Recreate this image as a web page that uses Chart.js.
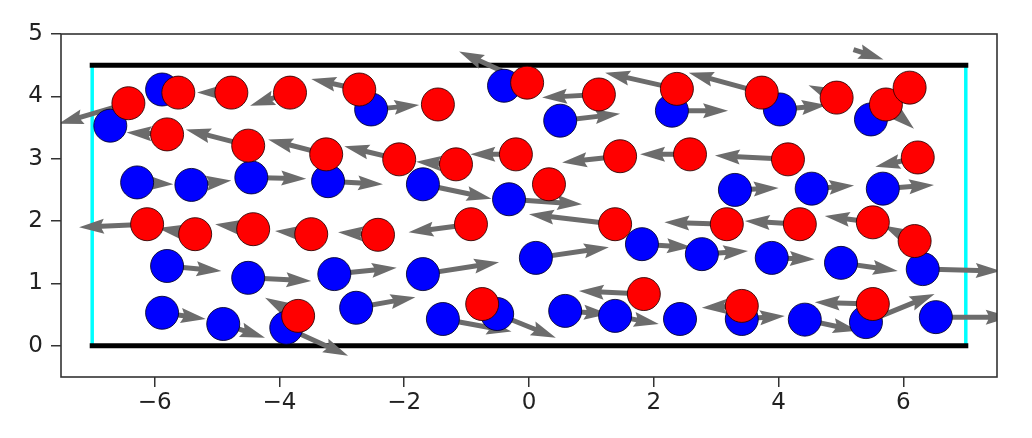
<!DOCTYPE html>
<html><head><meta charset="utf-8">
<script src="https://cdn.jsdelivr.net/npm/chart.js@4.4.1/dist/chart.umd.min.js"></script>
<style>html,body{margin:0;padding:0;background:#fff}#wrap{width:1032px;height:438px;position:relative}</style>
</head><body><div id="wrap"><canvas id="c"></canvas></div>
<script>
const xTicks = [-6, -4, -2, 0, 2, 4, 6];
const yTicks = [0, 1, 2, 3, 4, 5];

const blueX = [-5.88,-6.71,-2.53,-0.40,0.50,2.29,4.02,5.48,-6.28,-5.41,-4.45,-3.22,-1.70,-0.32,3.30,4.53,5.67,-5.80,-4.50,-3.12,-1.70,0.11,1.81,2.77,3.89,5.00,6.31,-5.88,-4.90,-3.89,-2.77,-1.38,-0.51,0.58,1.38,2.42,3.41,4.42,5.40,6.52];
const blueY = [4.11,3.53,3.79,4.17,3.61,3.77,3.79,3.63,2.62,2.58,2.70,2.64,2.59,2.35,2.50,2.52,2.52,1.28,1.09,1.15,1.15,1.41,1.63,1.47,1.41,1.33,1.23,0.53,0.35,0.29,0.61,0.43,0.51,0.56,0.48,0.43,0.43,0.42,0.38,0.46];

const redX = [-6.42,-5.62,-4.77,-3.83,-2.72,-1.46,-0.03,1.12,2.37,3.73,4.93,5.72,6.10,-5.80,-4.50,-3.25,-2.08,-1.17,-0.21,0.32,1.46,2.58,4.15,6.23,-6.12,-5.35,-4.42,-3.49,-2.42,-0.93,1.38,3.17,4.34,5.51,6.18,-3.70,-0.75,1.84,3.41,5.51];
const redY = [3.89,4.06,4.06,4.06,4.11,3.87,4.22,4.03,4.12,4.06,3.98,3.87,4.14,3.39,3.21,3.07,2.99,2.91,3.07,2.59,3.04,3.07,2.99,3.02,1.95,1.79,1.87,1.79,1.78,1.95,1.95,1.95,1.95,1.98,1.68,0.48,0.67,0.83,0.64,0.67];

const arrowX = [-6.42,-4.77,-3.83,-2.72,-2.53,-0.03,1.12,0.50,2.37,3.73,2.29,4.02,5.2,5.72,4.93,
  -5.80,-4.50,-3.25,-2.08,-1.17,-0.21,1.46,2.58,4.15,6.23,
  -6.28,-5.41,-4.45,-3.22,-1.70,-0.32,3.30,4.53,5.67,
  -6.12,-5.35,-4.42,-3.49,-2.42,-0.93,1.38,3.17,4.34,5.51,6.18,
  -5.80,-4.50,-3.12,-1.70,0.11,1.81,2.77,3.89,5.00,6.31,
  -5.88,-4.90,-3.70,-3.89,-2.77,-1.38,-0.51,0.58,1.84,1.38,3.41,3.41,4.42,5.51,5.40,6.52];
const arrowY = [3.89,4.06,4.06,4.11,3.79,4.22,4.03,3.61,4.12,4.06,3.77,3.79,4.75,3.87,3.98,
  3.39,3.21,3.07,2.99,2.91,3.07,3.04,3.07,2.99,3.02,
  2.62,2.58,2.70,2.64,2.59,2.35,2.50,2.52,2.52,
  1.95,1.79,1.87,1.79,1.78,1.95,1.95,1.95,1.95,1.98,1.68,
  1.28,1.09,1.15,1.15,1.41,1.63,1.47,1.41,1.33,1.23,
  0.53,0.35,0.48,0.29,0.61,0.43,0.51,0.56,0.83,0.48,0.64,0.43,0.42,0.67,0.38,0.46];
const arrowU = [-1.12,-0.55,-0.64,-0.77,0.77,-1.09,-0.91,0.96,-1.15,-1.17,0.9,0.75,0.48,0.45,-0.45,
  -0.65,-1.0,-0.93,-0.88,-0.64,-0.73,-0.93,-0.8,-1.17,-0.68,
  0.58,0.64,0.88,0.88,1.1,1.17,0.7,0.68,0.82,
  -1.09,-0.6,-0.61,-0.58,-0.64,-1.0,-1.38,-1.0,-0.88,-0.77,-0.5,
  0.87,1.01,1.0,1.22,1.17,0.8,0.74,0.69,0.91,1.25,
  0.7,0.67,-0.53,0.99,0.95,1.1,0.94,0.7,-1.04,0.7,-0.64,0.69,0.85,-0.93,1.1,1.2];
const arrowV = [-0.33,0,-0.21,0.17,0.07,0.5,-0.05,0.11,0.26,0.32,0,0.07,-0.16,-0.39,0.2,
  0.03,0.26,0.24,0.21,0.04,0,-0.1,0,0.06,-0.15,
  -0.03,0.07,-0.02,-0.05,-0.23,-0.08,0.03,0.05,0.06,
  -0.05,0.1,0.08,0.05,0.04,-0.13,0.16,0.03,0.05,0.1,0.25,
  -0.08,-0.05,0.1,0.19,0.17,-0.05,0.05,-0.02,-0.13,-0.03,
  -0.1,-0.22,0.29,-0.45,0.17,-0.2,-0.38,-0.05,0.05,-0.13,-0.03,0.05,-0.18,0.03,0.45,0];

const wallXs = [-7, 7];
const wallYs = [0, 4.5];

const fmt = v => String(v).replace('-', '\u2212');

const quiverPlugin = {
  id: 'quiver',
  beforeDatasetDraw(chart, args) {
    if (chart.data.datasets[args.index].label !== 'blue') return;
    const ctx = chart.ctx, xs = chart.scales.x, ys = chart.scales.y, a = chart.chartArea;
    ctx.save();
    ctx.beginPath();
    ctx.rect(a.left, a.top, a.right - a.left, a.bottom - a.top);
    ctx.clip();
    ctx.fillStyle = '#6c6c6c';
    const w = 5;
    for (let i = 0; i < arrowX.length; i++) {
      const x0 = xs.getPixelForValue(arrowX[i]), y0 = ys.getPixelForValue(arrowY[i]);
      const x1 = xs.getPixelForValue(arrowX[i] + arrowU[i]), y1 = ys.getPixelForValue(arrowY[i] + arrowV[i]);
      const L = Math.hypot(x1 - x0, y1 - y0), ang = Math.atan2(y1 - y0, x1 - x0);
      ctx.save();
      ctx.translate(x0, y0); ctx.rotate(ang);
      ctx.beginPath();
      ctx.moveTo(0, -w / 2);
      ctx.lineTo(L - 4.5 * w, -w / 2);
      ctx.lineTo(L - 5 * w, -1.5 * w);
      ctx.lineTo(L, 0);
      ctx.lineTo(L - 5 * w, 1.5 * w);
      ctx.lineTo(L - 4.5 * w, w / 2);
      ctx.lineTo(0, w / 2);
      ctx.closePath();
      ctx.fill();
      ctx.restore();
    }
    ctx.restore();
  }
};

const framePlugin = {
  id: 'frame',
  afterDraw(chart) {
    const ctx = chart.ctx, a = chart.chartArea;
    ctx.save();
    ctx.strokeStyle = '#333';
    ctx.lineWidth = 1.6;
    ctx.strokeRect(a.left, a.top, a.right - a.left, a.bottom - a.top);
    ctx.restore();
  }
};

const pts = (xs, ys) => xs.map((x, i) => ({ x, y: ys[i] }));

const axisCommon = {
  type: 'linear',
  border: { display: false },
  grid: { drawOnChartArea: false, drawTicks: true, tickLength: 10, color: '#333', lineWidth: 1.5 },
  ticks: { font: { family: 'DejaVu Sans', size: 23 }, color: '#222', autoSkip: false, maxRotation: 0, callback: v => fmt(v) }
};

new Chart(document.getElementById('c'), {
  type: 'scatter',
  data: {
    datasets: [
      { label: 'red', data: pts(redX, redY), order: 0, pointRadius: 16.5, pointHoverRadius: 16.5,
        backgroundColor: '#ff0000', borderColor: 'rgba(40,0,0,0.85)', borderWidth: 1 },
      { label: 'blue', data: pts(blueX, blueY), order: 1, pointRadius: 16.5, pointHoverRadius: 16.5,
        backgroundColor: '#0000ff', borderColor: 'rgba(0,0,40,0.85)', borderWidth: 1 },
      { label: 'wallBottom', type: 'line', data: pts(wallXs, [wallYs[0], wallYs[0]]), order: 2,
        borderColor: '#000', borderWidth: 5, pointRadius: 0, borderCapStyle: 'square', showLine: true },
      { label: 'wallTop', type: 'line', data: pts(wallXs, [wallYs[1], wallYs[1]]), order: 2,
        borderColor: '#000', borderWidth: 5, pointRadius: 0, borderCapStyle: 'square', showLine: true },
      { label: 'wallLeft', type: 'line', data: pts([wallXs[0], wallXs[0]], wallYs), order: 3,
        borderColor: '#00ffff', borderWidth: 3.5, pointRadius: 0, showLine: true },
      { label: 'wallRight', type: 'line', data: pts([wallXs[1], wallXs[1]], wallYs), order: 3,
        borderColor: '#00ffff', borderWidth: 3.5, pointRadius: 0, showLine: true }
    ]
  },
  options: {
    responsive: true, maintainAspectRatio: false, animation: false, devicePixelRatio: 1,
    events: [],
    layout: { padding: { left: 0, top: 34, right: 35, bottom: 0 } },
    plugins: { legend: { display: false }, tooltip: { enabled: false } },
    scales: {
      x: Object.assign({}, axisCommon, {
        min: -7.5, max: 7.5,
        ticks: Object.assign({}, axisCommon.ticks, { padding: 2 }),
        afterBuildTicks: s => { s.ticks = xTicks.map(v => ({ value: v })); },
        afterFit: s => { s.height = 61; }
      }),
      y: Object.assign({}, axisCommon, {
        min: -0.5, max: 5,
        ticks: Object.assign({}, axisCommon.ticks, { padding: 8 }),
        afterBuildTicks: s => { s.ticks = yTicks.map(v => ({ value: v })); },
        afterFit: s => { s.width = 61; }
      })
    }
  },
  plugins: [quiverPlugin, framePlugin]
});
</script></body></html>
